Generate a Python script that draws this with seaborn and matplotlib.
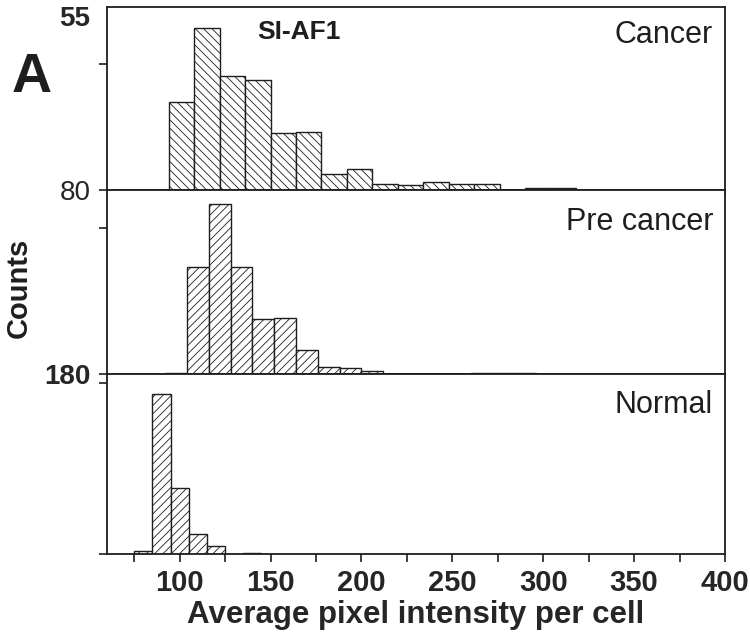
import numpy as np
import seaborn as sns
import matplotlib
matplotlib.use("Agg")
import matplotlib.pyplot as plt

# bin edges and counts
cancer_edges = [94, 108, 122, 136, 150, 164, 178, 192, 206, 220, 234, 248, 262, 276, 290, 304, 318]
cancer_counts = [56, 103, 72, 70, 36, 37, 10, 13, 4, 3, 5, 4, 4, 0, 1, 1]

precancer_edges = [92, 104, 116, 128, 140, 152, 164, 176, 188, 200, 212, 224, 236, 248, 260, 272, 284, 296]
precancer_counts = [1, 110, 175, 110, 56, 58, 25, 7, 6, 3, 0, 0, 0, 0, 1, 1, 1]

normal_edges = [75, 85, 95, 105, 115, 125, 135, 145]
normal_counts = [3, 160, 66, 20, 8, 0, 1]

panel_names = ["Cancer", "Pre cancer", "Normal"]
x_ticks = [100, 150, 200, 250, 300, 350, 400]
x_minor = [75, 125, 175, 225, 275, 325, 375]

sns.set_style("ticks")
plt.rcParams["font.family"] = ["Liberation Sans", "DejaVu Sans"]
plt.rcParams["hatch.linewidth"] = 0.6
ink = "#1e1e1e"

W, H = 750, 635
fig = plt.figure(figsize=(7.5, 6.35), dpi=100)


def px_box(top, bottom, left=107, right=725):
    return [left / W, 1 - bottom / H, (right - left) / W, (bottom - top) / H]


panels = [
    (px_box(7, 190), cancer_edges, cancer_counts, "\\\\\\\\", 116),
    (px_box(190, 374), precancer_edges, precancer_counts, "////", 189),
    (px_box(374, 554), normal_edges, normal_counts, "////", 180),
]

axes = []
for box, edges, counts, hatch, ytop in panels:
    ax = fig.add_axes(box)
    centers = (np.array(edges[:-1]) + np.array(edges[1:])) / 2
    sns.histplot(x=centers, weights=counts, bins=edges, ax=ax,
                 color="white", edgecolor=ink, linewidth=1.0, alpha=1)
    for p in ax.patches:
        p.set_hatch(hatch)
        p.set_facecolor("white")
    ax.set_xlim(60, 400)
    ax.set_ylim(0, ytop)
    ax.set_xlabel("")
    ax.set_ylabel("")
    ax.set_xticks(x_ticks)
    ax.set_xticks(x_minor, minor=True)
    ax.tick_params(axis="x", which="both", direction="out", length=6, width=1.2, color=ink)
    ax.tick_params(axis="y", direction="out", length=6, width=1.2, color=ink,
                   labelsize=20, pad=6)
    for s in ax.spines.values():
        s.set_visible(True)
        s.set_linewidth(1.3)
        s.set_color(ink)
    axes.append(ax)

ax_c, ax_p, ax_n = axes
ax_c.tick_params(axis="x", labelbottom=False)
ax_p.tick_params(axis="x", labelbottom=False)

# odd stacked y labels of the original figure
ax_c.set_yticks([0, 80, 110.5])
ax_c.set_yticklabels(["80", "", "55"])
ax_c.get_yticklabels()[2].set_fontweight("bold")
ax_c.yaxis.get_major_ticks()[2].tick1line.set_visible(False)

ax_p.set_yticks([0, 150])
ax_p.set_yticklabels(["180", ""])
ax_p.get_yticklabels()[0].set_fontweight("bold")

ax_n.set_yticks([0, 171])
ax_n.set_yticklabels(["", ""])

ax_n.set_xticklabels([str(v) for v in x_ticks], fontsize=21, fontweight="bold")
ax_n.tick_params(axis="x", pad=5)
ax_n.set_xlabel("Average pixel intensity per cell", fontsize=22.5,
                fontweight="bold", labelpad=2)

for ax, name, ytxt in zip(axes, panel_names, [35, 222, 405]):
    fig.text(713 / W, 1 - ytxt / H, name, ha="right", va="center",
             fontsize=22, color=ink)

fig.text(299 / W, 1 - 32 / H, "SI-AF1", ha="center", va="center",
         fontsize=19, fontweight="bold", color=ink)
fig.text(32 / W, 1 - 78 / H, "A", ha="center", va="center",
         fontsize=40, fontweight="bold", color=ink)
fig.text(19 / W, 1 - 288 / H, "Counts", ha="center", va="center",
         rotation=90, fontsize=21, fontweight="bold", color=ink)

fig.savefig("out.png", dpi=100, facecolor="white")
